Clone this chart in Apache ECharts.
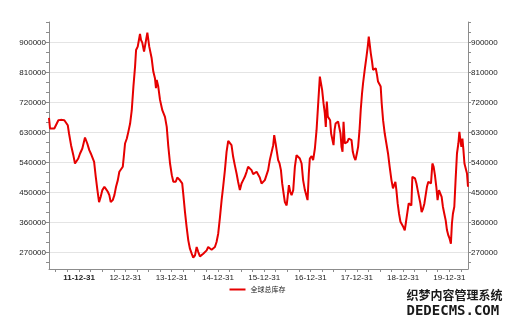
<!DOCTYPE html>
<html>
<head>
<meta charset="utf-8">
<script src="https://cdn.jsdelivr.net/npm/echarts@6/dist/echarts.min.js"></script>
<style>
html,body{margin:0;padding:0;background:#fff;}
#c{width:515px;height:325px;}
</style>
</head>
<body>
<div id="c"></div>
<script>
const seriesName = '全球总库存';
const dates = [
'2011-05-08','2011-05-16','2011-05-30','2011-06-19','2011-07-03','2011-07-21','2011-08-09','2011-08-21','2011-09-06','2011-09-19',
'2011-10-03','2011-10-13','2011-10-29','2011-11-16','2011-11-29','2011-12-13','2011-12-25',
'2012-01-08','2012-01-26','2012-02-16','2012-03-05','2012-03-21','2012-04-02','2012-04-14','2012-04-28','2012-05-11','2012-05-24',
'2012-06-06','2012-06-19','2012-07-02','2012-07-18','2012-07-31','2012-08-14','2012-08-26','2012-09-06','2012-09-22','2012-10-05',
'2012-10-18','2012-11-01','2012-11-13','2012-11-27','2012-12-10','2012-12-18','2012-12-28',
'2013-01-11','2013-01-23','2013-02-06','2013-02-19','2013-03-04','2013-03-17','2013-03-25','2013-04-07','2013-04-15','2013-04-25',
'2013-05-03','2013-05-13','2013-05-27','2013-06-09','2013-06-22','2013-07-07','2013-07-26','2013-08-08','2013-08-21','2013-08-29',
'2013-09-04','2013-09-16','2013-09-30','2013-10-18','2013-11-08','2013-11-22','2013-12-04','2013-12-18',
'2014-01-01','2014-01-13','2014-02-01','2014-02-13','2014-03-01','2014-03-14','2014-03-24','2014-04-01','2014-04-15','2014-04-28',
'2014-05-11','2014-05-24','2014-06-07','2014-06-19','2014-07-03','2014-07-16','2014-07-29','2014-08-11','2014-08-24','2014-09-06',
'2014-09-19','2014-10-03','2014-10-15','2014-10-29','2014-11-11','2014-11-24','2014-12-07','2014-12-20',
'2015-01-02','2015-01-16','2015-01-29','2015-02-10','2015-02-24','2015-03-09','2015-03-22','2015-04-04','2015-04-17','2015-04-30',
'2015-05-13','2015-05-27','2015-06-08','2015-06-22','2015-07-05','2015-07-18','2015-07-31','2015-08-14','2015-08-26','2015-09-09',
'2015-09-22','2015-10-05','2015-10-18','2015-11-01','2015-11-13','2015-11-26','2015-12-10','2015-12-23',
'2016-01-05','2016-01-18','2016-01-31','2016-02-13','2016-02-27','2016-03-11','2016-03-19','2016-03-30','2016-04-09','2016-04-19',
'2016-04-30','2016-05-11','2016-05-21','2016-06-01','2016-06-11','2016-06-25','2016-07-03','2016-07-13','2016-07-23','2016-08-03',
'2016-08-16','2016-08-29','2016-09-11','2016-09-24','2016-10-07','2016-10-21','2016-11-02','2016-11-16','2016-11-29','2016-12-07',
'2016-12-17','2016-12-25',
'2017-01-08','2017-01-20','2017-02-03','2017-02-16','2017-03-01','2017-03-14','2017-03-22','2017-04-01','2017-04-12','2017-04-22',
'2017-04-30','2017-05-08','2017-05-16','2017-05-26','2017-06-03','2017-06-11','2017-06-22','2017-06-30','2017-07-08','2017-07-16',
'2017-07-26','2017-08-05','2017-08-16','2017-08-24','2017-09-01','2017-09-09','2017-09-17','2017-09-27','2017-10-07','2017-10-18',
'2017-10-28','2017-11-08','2017-11-19','2017-11-29','2017-12-09','2017-12-20','2017-12-31',
'2018-01-10','2018-01-21','2018-01-31','2018-02-10','2018-02-18','2018-03-03','2018-03-17','2018-03-27','2018-04-04','2018-04-12',
'2018-04-20','2018-04-30','2018-05-08','2018-05-19','2018-05-29','2018-06-08','2018-06-16','2018-06-30','2018-07-07','2018-07-15',
'2018-07-26','2018-08-08','2018-08-21','2018-09-03','2018-09-16','2018-09-30','2018-10-12','2018-10-23','2018-10-31','2018-11-08',
'2018-11-18','2018-11-29','2018-12-10','2018-12-22',
'2019-01-02','2019-01-13','2019-01-23','2019-02-03','2019-02-13','2019-02-23','2019-03-06','2019-03-14','2019-03-24','2019-04-04',
'2019-04-15','2019-04-25','2019-05-05','2019-05-16','2019-05-26','2019-06-06','2019-06-17','2019-06-27','2019-07-07','2019-07-18',
'2019-07-28','2019-08-08','2019-08-19','2019-08-29','2019-09-08','2019-09-19','2019-09-29','2019-10-10','2019-10-21','2019-10-31',
'2019-11-10','2019-11-21','2019-12-02','2019-12-12','2019-12-23',
'2020-01-02','2020-01-12','2020-01-20','2020-01-28','2020-02-08','2020-02-18','2020-02-29','2020-03-11','2020-03-19','2020-03-27',
'2020-04-04','2020-04-12','2020-04-20','2020-04-28','2020-05-08','2020-05-18','2020-05-26'
];
const values = [
674000,642000,647000,642000,637000,667000,668000,663000,667000,663000,
652000,627000,592000,562000,537000,542000,552000,
567000,582000,615000,597000,577000,567000,567000,542000,497000,457000,
421000,437000,457000,467000,460000,452000,442000,421000,427000,442000,
467000,487000,512000,517000,527000,557000,597000,
612000,632000,657000,697000,768000,828000,878000,888000,905000,926000,
908000,900000,873000,878000,930000,888000,853000,813000,793000,763000,
788000,768000,728000,697000,677000,647000,590000,537000,
502000,482000,482000,495000,489000,487000,477000,447000,391000,346000,
306000,281000,266000,254000,261000,286000,271000,258000,261000,266000,
271000,276000,286000,284000,278000,281000,286000,301000,
326000,376000,427000,467000,517000,572000,605000,602000,592000,557000,
532000,507000,482000,457000,477000,487000,497000,512000,527000,522000,
517000,505000,510000,512000,515000,495000,477000,482000,
487000,489000,517000,547000,552000,592000,622000,597000,572000,547000,
537000,517000,477000,447000,421000,411000,437000,472000,452000,442000,
457000,527000,562000,557000,552000,537000,487000,457000,452000,427000,
507000,552000,
559000,547000,582000,637000,642000,798000,803000,758000,718000,688000,
647000,723000,678000,678000,667000,627000,622000,592000,637000,657000,
652000,663000,667000,627000,587000,572000,662000,597000,592000,602000,
612000,617000,607000,572000,557000,547000,567000,
587000,637000,700000,748000,778000,818000,858000,888000,918000,893000,
868000,843000,818000,813000,823000,803000,783000,783000,768000,718000,
667000,627000,597000,567000,527000,487000,462000,457000,482000,457000,
417000,386000,362000,356000,
346000,336000,362000,391000,417000,422000,411000,497000,497000,492000,
477000,457000,457000,417000,391000,401000,417000,417000,467000,482000,
487000,477000,537000,527000,502000,467000,427000,457000,452000,437000,
407000,386000,366000,337000,321000,
311000,296000,356000,386000,407000,487000,567000,597000,632000,607000,
587000,612000,577000,537000,532000,507000,467000
];
const xLabelDates = ['2011-12-31','2012-12-31','2013-12-31','2014-12-31','2015-12-31','2016-12-31','2017-12-31','2018-12-31','2019-12-31'];
const yLabelValues = [270000,360000,450000,540000,630000,720000,810000,900000];
const yTickValues = [240000,270000,300000,330000,360000,390000,420000,450000,480000,510000,540000,570000,600000,630000,660000,690000,720000,750000,780000,810000,840000,870000,900000,930000,960000];
const yMin = 220000, yMax = 962000;

function parseDay(s){ const p = s.split('-'); return Date.UTC(+p[0], +p[1]-1, +p[2]); }
const xLabelTs = xLabelDates.map(parseDay);
const qTicks = [];
for (let y = 2011; y <= 2020; y++) {
  [[2,31],[5,30],[8,30],[11,31]].forEach(function(md){
    qTicks.push(Date.UTC(y, md[0], md[1]));
  });
}
const xMin = parseDay(dates[0]), xMax = parseDay(dates[dates.length-1]);
const ticksInRange = qTicks.filter(t => t >= xMin && t <= xMax);
const data = dates.map((d,i) => [parseDay(d), values[i]]);

function pad(n){ return (n<10?'0':'')+n; }
function fmtDate(v){ const d = new Date(v); return pad(d.getUTCFullYear()%100)+'-'+pad(d.getUTCMonth()+1)+'-'+pad(d.getUTCDate()); }

const font = 'Liberation Sans, Arial, sans-serif';
const axisGray = '#8c8c8c';
const chart = echarts.init(document.getElementById('c'), null, {renderer:'canvas'});
const yCommon = {
  type:'value', min:yMin, max:yMax,
  axisLine:{show:true, lineStyle:{color:axisGray, width:1}},
  axisTick:{show:true, length:3, customValues:yTickValues, lineStyle:{color:axisGray}},
  axisLabel:{customValues:yLabelValues, fontSize:8, color:'#222', fontFamily:font, margin:3,
             formatter:function(v){ return String(v); }},
  splitLine:{show:false}
};
chart.setOption({
  animation:false,
  backgroundColor:'#fff',
  grid:{left:49, right:47, top:22, bottom:56},
  legend:{
    data:[seriesName], bottom:27, left:'center', icon:'rect', itemWidth:16, itemHeight:2, itemGap:4,
    textStyle:{fontSize:7, color:'#222', fontFamily:'Noto Sans CJK SC'}
  },
  xAxis:{
    type:'value', min:xMin, max:xMax,
    axisLine:{show:true, lineStyle:{color:axisGray}},
    axisTick:{show:true, length:3, customValues:ticksInRange, lineStyle:{color:axisGray}},
    axisLabel:{
      customValues:xLabelTs, fontSize:8, color:'#222', fontFamily:font, margin:5,
      formatter:function(v){ const s = fmtDate(v); return v === xLabelTs[0] ? '{b|'+s+'}' : s; },
      rich:{b:{fontWeight:'bold', fontSize:8, fontFamily:font, color:'#222'}}
    },
    splitLine:{show:false}
  },
  yAxis:[
    Object.assign({}, yCommon, {position:'left'}),
    Object.assign({}, yCommon, {position:'right'}),
    {type:'value', min:yMin, max:yMax, position:'left',
     axisLine:{show:false}, axisLabel:{show:false},
     axisTick:{show:false, customValues:yLabelValues},
     splitLine:{show:true, lineStyle:{color:'#e4e4e4', width:1}}}
  ],
  series:[{
    name:seriesName, type:'line', data:data, yAxisIndex:0,
    showSymbol:false, symbol:'none',
    lineStyle:{color:'#e60000', width:2},
    itemStyle:{color:'#e60000'}
  }],
  graphic:[
    {type:'text', left:406, top:289, z:100, style:{text:'织梦内容管理系统', font:'bold 12px "Noto Sans CJK SC"', fill:'#1a1a1a', stroke:'#fff', lineWidth:1}},
    {type:'text', left:406, top:304, z:100, style:{text:'DEDECMS.COM', font:'bold 14px "DejaVu Sans Mono"', fill:'#1a1a1a', stroke:'#fff', lineWidth:1}}
  ]
});
</script>
</body>
</html>
